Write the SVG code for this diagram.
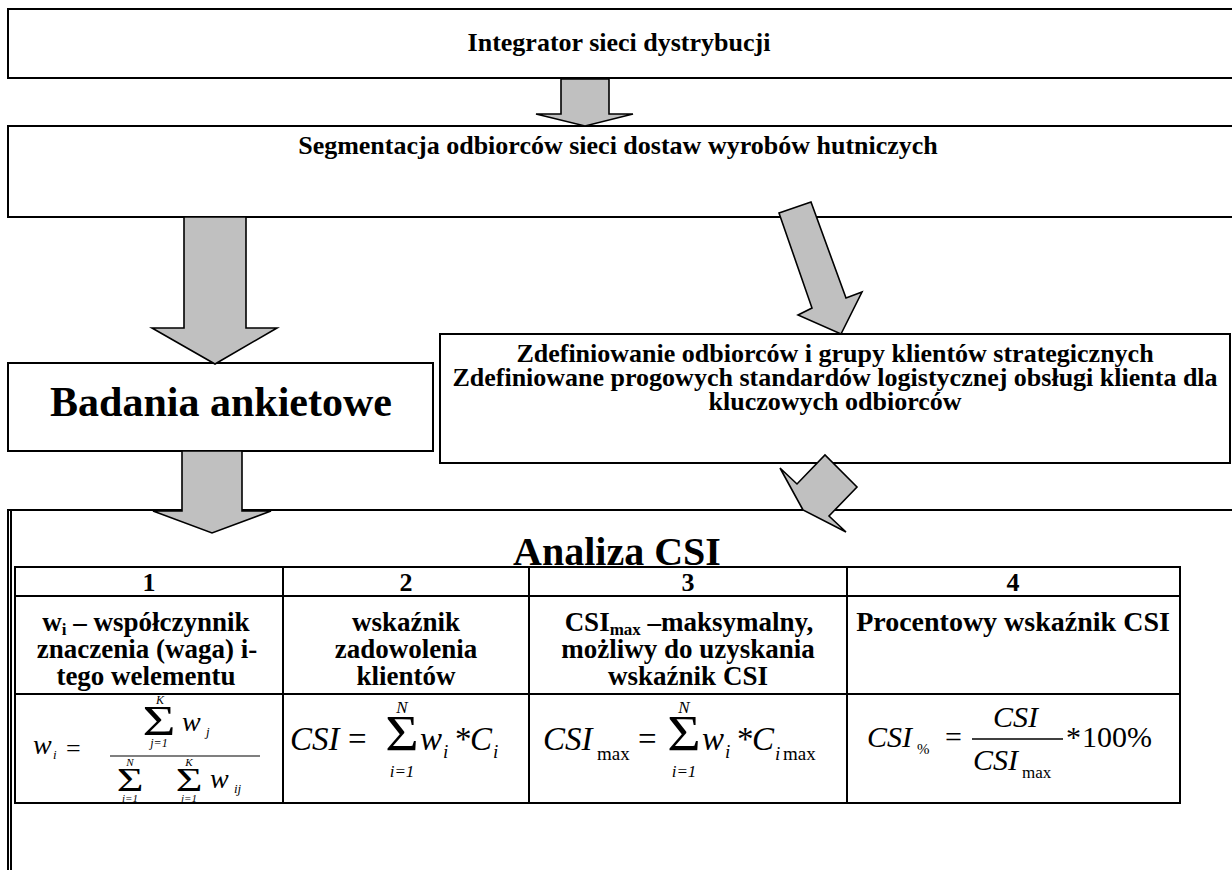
<svg xmlns="http://www.w3.org/2000/svg" width="1232" height="870" viewBox="0 0 1232 870">
<style>
.box{fill:#fff;stroke:#000;stroke-width:2}
.arr{fill:#c0c0c0;stroke:#000;stroke-width:1.6;stroke-linejoin:miter}
.t{font-family:"Liberation Serif","Times New Roman",serif;font-weight:bold;fill:#000}
.m{font-family:"Liberation Serif","Times New Roman",serif;font-style:italic;fill:#000}
.u{font-family:"Liberation Serif","Times New Roman",serif;fill:#000}
.tl{stroke:#000;stroke-width:2;fill:none}
.c{text-anchor:middle}
</style>
<rect width="1232" height="870" fill="#fff"/>
<g id="node-integrator">
<rect class="box" x="8" y="9" width="1240" height="69"/>
<text class="t c" x="619" y="51" font-size="26">Integrator sieci dystrybucji</text>
</g>
<g id="node-segmentacja">
<rect class="box" x="8" y="126" width="1240" height="91"/>
<text class="t c" x="618" y="154" font-size="26">Segmentacja odbiorców sieci dostaw wyrobów hutniczych</text>
</g>
<g id="node-badania">
<rect class="box" x="8" y="363" width="425" height="88"/>
<text class="t c" x="221" y="416" font-size="42">Badania ankietowe</text>
</g>
<g id="node-zdefiniowanie">
<rect class="box" x="440" y="334" width="790" height="129"/>
<text class="t c" x="835" y="362" font-size="26">Zdefiniowanie odbiorców i grupy klientów strategicznych</text>
<text class="t c" x="835" y="386" font-size="26">Zdefiniowane progowych standardów logistycznej obsługi klienta dla</text>
<text class="t c" x="835" y="410" font-size="26">kluczowych odbiorców</text>
</g>
<g id="node-analiza">
<rect class="box" x="8" y="510" width="1240" height="400"/>
<line class="tl" x1="11" y1="510" x2="11" y2="870" stroke-width="1"/>
<text class="t c" x="617" y="565" font-size="40">Analiza CSI</text>
<g id="table">
<rect class="tl" x="15" y="567" width="1165" height="236"/>
<line class="tl" x1="15" y1="596" x2="1180" y2="596"/>
<line class="tl" x1="15" y1="694" x2="1180" y2="694"/>
<line class="tl" x1="283" y1="567" x2="283" y2="803"/>
<line class="tl" x1="529" y1="567" x2="529" y2="803"/>
<line class="tl" x1="847" y1="567" x2="847" y2="803"/>
<g class="t c" font-size="26">
<text x="149" y="591">1</text>
<text x="406" y="591">2</text>
<text x="688" y="591">3</text>
<text x="1013" y="591">4</text>
</g>
<g class="t c" font-size="27">
<text x="146" y="631">w<tspan font-size="17" dy="4">i</tspan><tspan dy="-4"> – współczynnik</tspan></text>
<text x="147" y="658">znaczenia (waga) i-</text>
<text x="146" y="685">tego welementu</text>
<text x="406" y="631">wskaźnik</text>
<text x="406" y="658">zadowolenia</text>
<text x="406" y="685">klientów</text>
<text x="689" y="631">CSI<tspan font-size="17" dy="4">max</tspan><tspan dy="-4"> –maksymalny,</tspan></text>
<text x="688" y="658">możliwy do uzyskania</text>
<text x="688" y="685">wskaźnik CSI</text>
<text x="1013" y="631" font-size="28">Procentowy wskaźnik CSI</text>
</g>
<g id="f1">
<text class="m" x="33" y="754" font-size="28">w</text>
<text class="m" x="53" y="759" font-size="13">i</text>
<text class="u" x="66" y="757" font-size="26">=</text>
<line x1="110" y1="756" x2="260" y2="756" stroke="#000" stroke-width="1.2"/>
<text class="m c" x="160" y="704" font-size="12">K</text>
<text class="u c" transform="translate(159,735) scale(1.35,1)" x="0" y="0" font-size="42">Σ</text>
<text class="m c" x="159" y="747" font-size="12">j<tspan class="u">=1</tspan></text>
<text class="m" x="182" y="731" font-size="28">w</text>
<text class="m" x="206" y="736" font-size="13">j</text>
<text class="m c" x="130" y="766" font-size="11">N</text>
<text class="u c" transform="translate(130,791) scale(1.35,1)" x="0" y="0" font-size="34">Σ</text>
<text class="m c" x="130" y="802" font-size="11">i<tspan class="u">=1</tspan></text>
<text class="m c" x="189" y="766" font-size="11">K</text>
<text class="u c" transform="translate(189,791) scale(1.35,1)" x="0" y="0" font-size="34">Σ</text>
<text class="m c" x="189" y="802" font-size="11">j<tspan class="u">=1</tspan></text>
<text class="m" x="210" y="788" font-size="28">w</text>
<text class="m" x="234" y="793" font-size="13">ij</text>
</g>
<g id="f2">
<text class="m" x="290" y="750" font-size="33">CSI</text>
<text class="u" x="348" y="750" font-size="33">=</text>
<text class="u c" transform="translate(402,750) scale(1.15,1)" x="0" y="0" font-size="50">Σ</text>
<text class="m c" x="402" y="713" font-size="17">N</text>
<text class="m c" x="402" y="777" font-size="17">i<tspan class="u">=1</tspan></text>
<text class="m" x="420" y="750" font-size="33">w</text>
<text class="m" x="443" y="758" font-size="19">i</text>
<text class="u" x="455" y="750" font-size="33">*</text>
<text class="m" x="470" y="750" font-size="33">C</text>
<text class="m" x="493" y="758" font-size="19">i</text>
</g>
<g id="f3">
<text class="m" x="543" y="750" font-size="33">CSI</text>
<text class="u" x="597" y="760" font-size="19">max</text>
<text class="u" x="638" y="750" font-size="33">=</text>
<text class="u c" transform="translate(684,750) scale(1.15,1)" x="0" y="0" font-size="50">Σ</text>
<text class="m c" x="684" y="713" font-size="17">N</text>
<text class="m c" x="684" y="777" font-size="17">i<tspan class="u">=1</tspan></text>
<text class="m" x="702" y="750" font-size="33">w</text>
<text class="m" x="725" y="758" font-size="19">i</text>
<text class="u" x="737" y="750" font-size="33">*</text>
<text class="m" x="752" y="750" font-size="33">C</text>
<text class="m" x="775" y="760" font-size="19">i</text>
<text class="u" x="783" y="760" font-size="19">max</text>
</g>
<g id="f4">
<text class="m" x="867" y="747" font-size="30">CSI</text>
<text class="u" x="917" y="754" font-size="15">%</text>
<text class="u" x="945" y="747" font-size="30">=</text>
<line x1="972" y1="739" x2="1063" y2="739" stroke="#000" stroke-width="1.3"/>
<text class="m" x="993" y="727" font-size="30">CSI</text>
<text class="m" x="973" y="770" font-size="30">CSI</text>
<text class="u" x="1022" y="778" font-size="17">max</text>
<text class="u" x="1066" y="747" font-size="30">*</text>
<text class="u" x="1082" y="747" font-size="30">100%</text>
</g>
</g>
</g>
<g id="connectors">
<polygon class="arr" points="561,79 609,79 609,114 633,114 585,126 536,114 561,114"/>
<polygon class="arr" points="184,217 246,217 246,328 277,328 215,364 152,328 184,328"/>
<polygon class="arr" points="182,451 242,451 242,511 271,511 212,533 153,511 182,511"/>
<polygon class="arr" points="779,213 811,202 846,298 862,292 841,334 798,315 812,308"/>
<polygon class="arr" points="780,468 797,484 825,455 857,487 829,516 846,532 803,510"/>
</g>
</svg>
